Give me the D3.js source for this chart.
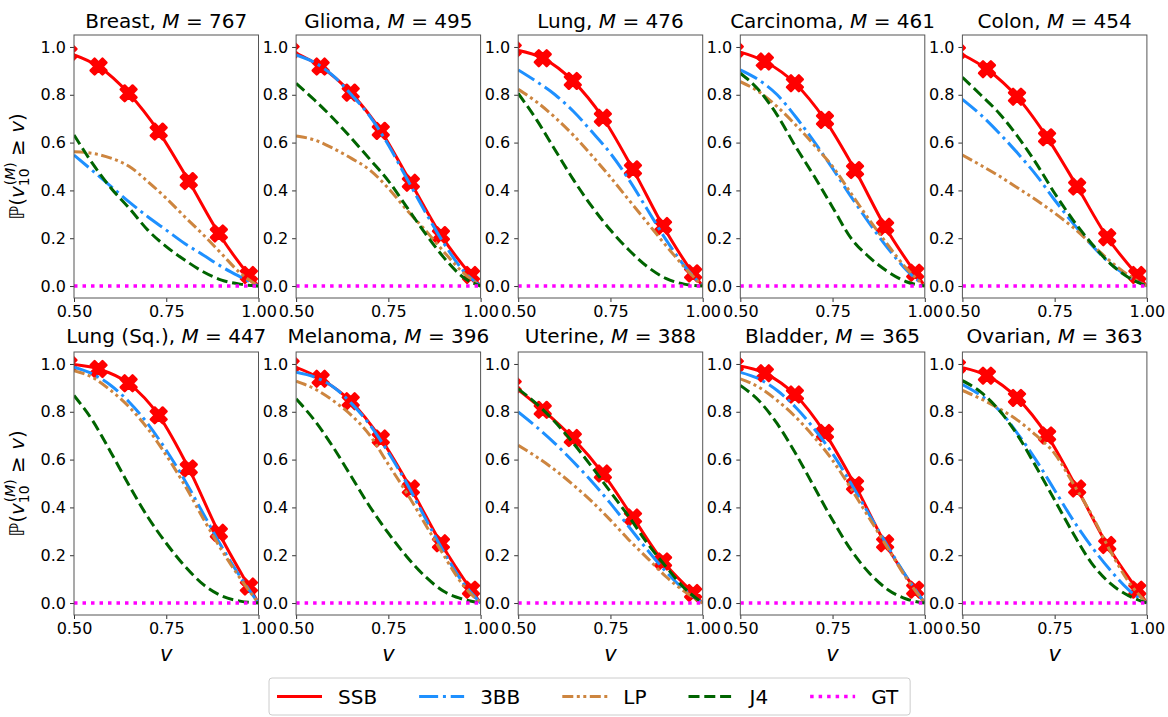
<!DOCTYPE html>
<html>
<head>
<meta charset="utf-8">
<script src="https://cdn.jsdelivr.net/npm/d3@7"></script>
<style>
  body { margin: 0; background: #fff; }
  svg { font-family: "DejaVu Sans", sans-serif; }
</style>
</head>
<body>
<div id="chart"></div>
<script>
//
// Data
//
var cancers = ["Breast", "Glioma", "Lung", "Carcinoma", "Colon",
               "Lung (Sq.)", "Melanoma", "Uterine", "Bladder", "Ovarian"];
var sizesM = [767, 495, 476, 461, 454, 447, 396, 388, 365, 363];

var vGrid = [0.5, 0.55, 0.6, 0.65, 0.7, 0.75, 0.8, 0.85, 0.9, 0.95, 1.0];
var ssbV = [0.485, 0.5665, 0.648, 0.7295, 0.811, 0.8925, 0.974, 1.0];
var xTicks = [0.5, 0.75, 1.0];
var yTicks = [0.0, 0.2, 0.4, 0.6, 0.8, 1.0];

// SSB, values at ssbV (markers at all but the last point)
var ssb = [
  [0.975, 0.918, 0.806, 0.646, 0.439, 0.220, 0.046, 0.0],
  [0.985, 0.918, 0.809, 0.649, 0.432, 0.213, 0.046, 0.0],
  [0.990, 0.953, 0.858, 0.704, 0.488, 0.251, 0.053, 0.0],
  [0.985, 0.939, 0.848, 0.695, 0.485, 0.248, 0.056, 0.0],
  [0.980, 0.907, 0.792, 0.622, 0.416, 0.204, 0.046, 0.0],
  [1.000, 0.979, 0.919, 0.785, 0.563, 0.294, 0.069, 0.0],
  [0.995, 0.938, 0.844, 0.688, 0.479, 0.250, 0.056, 0.0],
  [0.910, 0.808, 0.690, 0.542, 0.358, 0.174, 0.042, 0.0],
  [0.995, 0.961, 0.872, 0.711, 0.493, 0.250, 0.056, 0.0],
  [0.990, 0.951, 0.858, 0.701, 0.479, 0.243, 0.056, 0.0]
];

// other methods, values at vGrid
var bb3 = [
  [0.548, 0.483, 0.417, 0.351, 0.290, 0.234, 0.178, 0.130, 0.081, 0.039, 0.0],
  [0.967, 0.935, 0.880, 0.800, 0.710, 0.590, 0.450, 0.310, 0.180, 0.070, 0.0],
  [0.904, 0.855, 0.800, 0.730, 0.645, 0.555, 0.445, 0.320, 0.195, 0.085, 0.0],
  [0.904, 0.862, 0.800, 0.708, 0.604, 0.492, 0.374, 0.262, 0.158, 0.067, 0.0],
  [0.781, 0.716, 0.639, 0.555, 0.464, 0.360, 0.262, 0.172, 0.095, 0.039, 0.0],
  [0.986, 0.958, 0.910, 0.840, 0.750, 0.639, 0.514, 0.375, 0.236, 0.111, 0.0],
  [0.965, 0.945, 0.905, 0.835, 0.745, 0.630, 0.500, 0.355, 0.215, 0.090, 0.0],
  [0.799, 0.736, 0.667, 0.590, 0.507, 0.417, 0.319, 0.222, 0.132, 0.056, 0.0],
  [0.965, 0.938, 0.889, 0.819, 0.729, 0.625, 0.500, 0.368, 0.236, 0.111, 0.0],
  [0.914, 0.868, 0.806, 0.708, 0.597, 0.472, 0.347, 0.236, 0.139, 0.056, 0.0]
];
var lp = [
  [0.562, 0.555, 0.535, 0.500, 0.437, 0.367, 0.290, 0.215, 0.135, 0.055, 0.0],
  [0.628, 0.611, 0.576, 0.534, 0.485, 0.409, 0.318, 0.234, 0.144, 0.060, 0.0],
  [0.823, 0.770, 0.705, 0.630, 0.545, 0.455, 0.360, 0.265, 0.170, 0.080, 0.0],
  [0.855, 0.813, 0.750, 0.674, 0.590, 0.500, 0.388, 0.276, 0.172, 0.074, 0.0],
  [0.548, 0.505, 0.460, 0.410, 0.360, 0.305, 0.245, 0.175, 0.105, 0.045, 0.0],
  [0.972, 0.944, 0.889, 0.819, 0.729, 0.618, 0.493, 0.354, 0.222, 0.104, 0.0],
  [0.928, 0.896, 0.847, 0.785, 0.701, 0.580, 0.460, 0.330, 0.200, 0.080, 0.0],
  [0.660, 0.611, 0.556, 0.493, 0.424, 0.347, 0.264, 0.188, 0.111, 0.049, 0.0],
  [0.938, 0.903, 0.847, 0.778, 0.694, 0.597, 0.479, 0.354, 0.229, 0.104, 0.0],
  [0.889, 0.854, 0.813, 0.764, 0.701, 0.625, 0.500, 0.370, 0.220, 0.090, 0.0]
];
var j4 = [
  [0.632, 0.513, 0.410, 0.325, 0.234, 0.165, 0.109, 0.060, 0.025, 0.008, 0.0],
  [0.848, 0.778, 0.702, 0.618, 0.530, 0.440, 0.330, 0.220, 0.120, 0.040, 0.0],
  [0.806, 0.695, 0.569, 0.444, 0.332, 0.234, 0.151, 0.081, 0.032, 0.008, 0.0],
  [0.890, 0.820, 0.715, 0.583, 0.460, 0.330, 0.200, 0.120, 0.060, 0.018, 0.0],
  [0.873, 0.799, 0.722, 0.625, 0.513, 0.388, 0.276, 0.178, 0.095, 0.036, 0.0],
  [0.868, 0.764, 0.630, 0.490, 0.360, 0.250, 0.155, 0.078, 0.030, 0.008, 0.0],
  [0.854, 0.764, 0.653, 0.528, 0.403, 0.292, 0.194, 0.111, 0.049, 0.017, 0.0],
  [0.896, 0.833, 0.757, 0.667, 0.569, 0.465, 0.361, 0.250, 0.153, 0.063, 0.0],
  [0.910, 0.847, 0.750, 0.625, 0.486, 0.347, 0.222, 0.125, 0.056, 0.017, 0.0],
  [0.930, 0.882, 0.806, 0.701, 0.569, 0.431, 0.292, 0.167, 0.083, 0.031, 0.0]
];
var gt = [0, 0, 0, 0, 0, 0, 0, 0, 0, 0, 0];

//
// Series styles
//
var series = [
  {name: "SSB", color: "#ff0000", dash: null},
  {name: "3BB", color: "#1e90ff", dash: "19,4.8,3,4.8"},
  {name: "LP",  color: "#cd853f", dash: "11,3.5,3,3.5,3,3.5"},
  {name: "J4",  color: "#006400", dash: "11,4.8"},
  {name: "GT",  color: "#ff00ff", dash: "3.5,5"}
];

//
// Layout
//
var W = 1168, H = 717;
var left0 = 74, top0 = 35;
var panelW = 184.5, panelH = 263;
var colStep = 222.1, rowStep = 317;

var svg = d3.select("#chart").append("svg")
  .attr("width", W)
  .attr("height", H);

var x = d3.scaleLinear().domain([0.5, 1.0]).range([0, panelW]);
var y = d3.scaleLinear().domain([-0.05, 1.05]).range([panelH, 0]);

var line = d3.line()
  .x(function(d) { return x(d[0]); })
  .y(function(d) { return y(d[1]); })
  .curve(d3.curveMonotoneX);

var markerPath = d3.symbol().type(d3.symbolCross).size(155)();

cancers.forEach(function(name, i) {
  var row = Math.floor(i / 5), col = i % 5;
  var g = svg.append("g")
    .attr("transform", "translate(" + (left0 + col * colStep) + "," + (top0 + row * rowStep) + ")");

  g.append("clipPath").attr("id", "clip" + i)
    .append("rect").attr("width", panelW).attr("height", panelH);

  //
  // Axes
  //
  var ax = g.append("g")
    .attr("transform", "translate(0," + panelH + ")")
    .call(d3.axisBottom(x).tickValues(xTicks).tickFormat(d3.format(".2f"))
      .tickSize(4).tickPadding(4).tickSizeOuter(0));
  var ay = g.append("g")
    .call(d3.axisLeft(y).tickValues(yTicks).tickFormat(d3.format(".1f"))
      .tickSize(4).tickPadding(4).tickSizeOuter(0));
  [ax, ay].forEach(function(a) {
    a.select(".domain").remove();
    a.selectAll("text").style("font-size", "16px").style("fill", "#000")
      .style("font-family", "DejaVu Sans");
    a.selectAll("line").style("stroke", "#333");
  });

  //
  // Lines
  //
  var plot = g.append("g").attr("clip-path", "url(#clip" + i + ")");

  var ssbData = ssbV.map(function(v, k) { return [v, ssb[i][k]]; });
  plot.append("path")
    .attr("d", line(ssbData))
    .attr("fill", "none")
    .style("stroke", series[0].color)
    .style("stroke-width", 3);
  plot.selectAll(".mk")
    .data(ssbData.slice(0, 7))
    .enter().append("path")
    .attr("class", "mk")
    .attr("d", markerPath)
    .attr("transform", function(d) {
      return "translate(" + x(d[0]) + "," + y(d[1]) + ") rotate(45)";
    })
    .style("fill", series[0].color)
    .style("stroke", series[0].color)
    .style("stroke-width", 2.5)
    .style("stroke-linejoin", "round");

  [bb3, lp, j4, gt].forEach(function(arr, s) {
    var vals = (arr === gt) ? gt : arr[i];
    var st = series[s + 1];
    plot.append("path")
      .attr("d", line(vGrid.map(function(v, k) { return [v, vals[k]]; })))
      .attr("fill", "none")
      .style("stroke", st.color)
      .style("stroke-width", st.name == "GT" ? 3.5 : 3)
      .style("stroke-dasharray", st.dash);
  });

  //
  // Frame
  //
  g.append("rect")
    .attr("width", panelW)
    .attr("height", panelH)
    .style("fill", "none")
    .style("stroke", "#555")
    .style("stroke-width", 1);

  //
  // Title
  //
  var t = g.append("text")
    .attr("x", panelW / 2)
    .attr("y", row == 0 ? -7 : -9)
    .attr("text-anchor", "middle")
    .style("font-size", "20px");
  t.append("tspan").text(name + ", ");
  t.append("tspan").style("font-style", "italic").text("M");
  t.append("tspan").text(" = " + sizesM[i]);

  //
  // Axis labels
  //
  if (col == 0) {
    var yl = g.append("text")
      .attr("transform", "translate(-50," + (panelH / 2) + ") rotate(-90)")
      .attr("text-anchor", "middle")
      .style("font-size", "20px");
    yl.append("tspan").text("\u2119(");
    yl.append("tspan").style("font-style", "italic").text("v");
    yl.append("tspan").style("font-size", "14px").attr("dy", 5).text("10");
    yl.append("tspan").style("font-size", "14px").attr("dx", -17).attr("dy", -14).text("(");
    yl.append("tspan").style("font-size", "14px").style("font-style", "italic").text("M");
    yl.append("tspan").style("font-size", "14px").text(")");
    yl.append("tspan").attr("dy", 9).text(" \u2265 ");
    yl.append("tspan").style("font-style", "italic").text("v");
    yl.append("tspan").text(")");
  }
  if (row == 1) {
    g.append("text")
      .attr("x", panelW / 2)
      .attr("y", panelH + 46)
      .attr("text-anchor", "middle")
      .style("font-size", "21px")
      .style("font-style", "italic")
      .text("v");
  }
});

//
// Legend
//
var legend = svg.append("g").attr("transform", "translate(269,678)");
var box = legend.append("rect")
  .attr("height", 37)
  .attr("rx", 3)
  .style("fill", "#fff")
  .style("stroke", "#ccc")
  .style("stroke-width", 1);

var lx = 8, colGap = 42;
series.forEach(function(s) {
  legend.append("line")
    .attr("x1", lx).attr("x2", lx + 45)
    .attr("y1", 18.5).attr("y2", 18.5)
    .style("stroke", s.color)
    .style("stroke-width", s.name == "GT" ? 3.5 : 3)
    .style("stroke-dasharray", s.dash);
  var txt = legend.append("text")
    .attr("x", lx + 61)
    .attr("y", 26)
    .style("font-size", "20px")
    .text(s.name);
  lx += 61 + txt.node().getComputedTextLength() + colGap;
});
box.attr("width", lx - colGap + 12);
</script>
</body>
</html>
